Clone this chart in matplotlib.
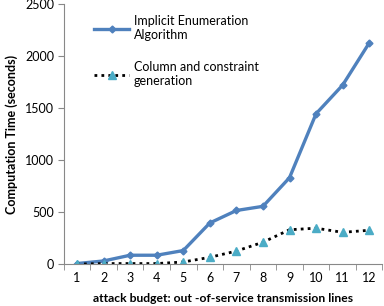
import numpy as np
import matplotlib.pyplot as plt

plt.rcParams['font.family'] = ['Lato', 'DejaVu Sans']

budget = np.arange(1, 13)
implicit = [5, 30, 85, 85, 130, 395, 515, 555, 830, 1445, 1720, 2125]
ccg = [0, 5, 5, 5, 20, 65, 125, 210, 330, 345, 305, 325]

fig = plt.figure(figsize=(3.84, 3.06), dpi=100)
ax = fig.add_axes([0.166, 0.137, 0.83, 0.85])

ax.plot(budget, implicit, color="#4F81BD", lw=2.4, marker="D", ms=3.5,
        mfc="#4F81BD", mec="#4F81BD", label="Implicit Enumeration\nAlgorithm")
ax.plot(budget, ccg, color="black", lw=2, ls=(0, (1, 1.5)), marker="^", ms=6,
        mfc="#4BACC6", mec="#4BACC6", label="Column and constraint\ngeneration")

ax.set_xlim(0.5, 12.5)
ax.set_ylim(0, 2500)
ax.set_yticks([0, 500, 1000, 1500, 2000, 2500])
ax.set_xticks(budget)
ax.set_xticks(np.arange(0.5, 13, 1), minor=True)
ax.tick_params(axis="x", which="major", length=0, labelsize=9, pad=6)
ax.tick_params(axis="x", which="minor", length=4, color="#888888")
ax.tick_params(axis="y", length=4, color="#888888", labelsize=9, pad=3)
for s in ["top", "right"]:
    ax.spines[s].set_visible(False)
for s in ["left", "bottom"]:
    ax.spines[s].set_color("#888888")

ax.set_ylabel("Computation Time (seconds)", fontsize=9, fontweight="bold", labelpad=5)
ax.set_xlabel("attack budget: out -of-service transmission lines", fontsize=8.7,
              fontweight="bold", labelpad=6)

ax.legend(loc="upper left", bbox_to_anchor=(0.06, 1.0), frameon=False, fontsize=9,
          handlelength=2.8, handletextpad=0.4, labelspacing=1.6)

plt.savefig("out.png", dpi=100)
